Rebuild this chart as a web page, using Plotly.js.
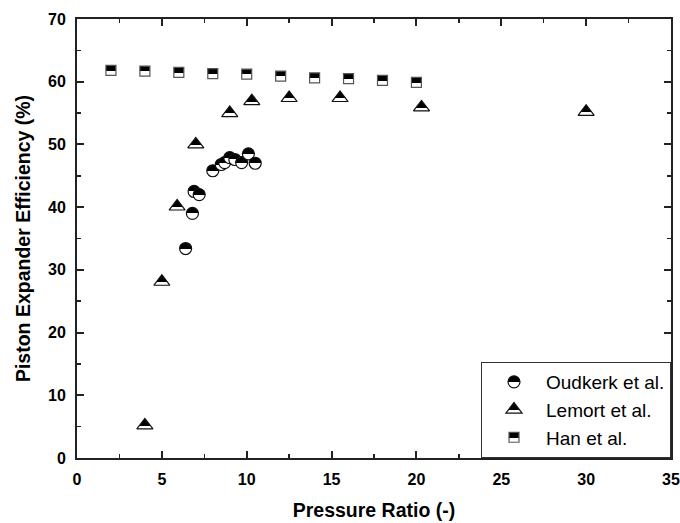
<!DOCTYPE html>
<html>
<head>
<meta charset="utf-8">
<script src="https://cdn.plot.ly/plotly-3.0.1.min.js"></script>
<style>
  html, body { margin: 0; padding: 0; background: #fff; }
  #chart { width: 680px; height: 523px; }
</style>
</head>
<body>
<div id="chart"></div>
<script>
// Oudkerk et al.
var oudkerkX = [6.4, 6.8, 6.9, 7.2, 8.0, 8.5, 8.7, 9.0, 9.3, 9.7, 10.1, 10.5];
var oudkerkY = [33.4, 39.0, 42.5, 42.0, 45.8, 46.8, 47.1, 47.9, 47.6, 47.1, 48.5, 47.0];
// Lemort et al.
var lemortX = [4.0, 5.0, 5.9, 7.0, 9.0, 10.3, 12.5, 15.5, 20.3, 30.0];
var lemortY = [5.2, 28.1, 40.1, 50.0, 55.0, 56.9, 57.4, 57.4, 55.9, 55.2];
// Han et al.
var hanX = [2, 4, 6, 8, 10, 12, 14, 16, 18, 20];
var hanY = [61.8, 61.7, 61.5, 61.3, 61.2, 60.9, 60.6, 60.5, 60.2, 59.9];

var seriesNames = ['Oudkerk et al.', 'Lemort et al.', 'Han et al.'];

function halfMarker(symbol, size, lower, lineColor) {
  return {
    symbol: symbol,
    size: size,
    color: '#000000',
    gradient: { type: 'vertical', color: lower },
    line: { color: lineColor, width: 1.2 }
  };
}

var data = [
  { x: oudkerkX, y: oudkerkY, name: seriesNames[0], type: 'scatter', mode: 'markers',
    marker: halfMarker('circle', 12, '#ffffff', '#111111') },
  { x: lemortX, y: lemortY, name: seriesNames[1], type: 'scatter', mode: 'markers',
    marker: halfMarker('triangle-up', 14, '#fefefe', '#111111') },
  { x: hanX, y: hanY, name: seriesNames[2], type: 'scatter', mode: 'markers',
    marker: halfMarker('square', 10, '#fdfdfd', '#555555') }
];

var fontFam = 'Liberation Sans, Arial, sans-serif';

var axisCommon = {
  showline: true, linecolor: '#222222', linewidth: 2, mirror: 'ticks',
  ticks: 'inside', ticklen: 7, tickwidth: 2, tickcolor: '#222222',
  ticklabelstandoff: 6,
  showgrid: false, zeroline: false,
  tickfont: { family: fontFam, size: 16, color: '#000', weight: 'bold' }
};
var minorCommon = { ticks: 'inside', ticklen: 4, tickwidth: 1.5, tickcolor: '#222222' };

var layout = {
  width: 680, height: 523,
  margin: { l: 77, r: 9, t: 19, b: 65 },
  paper_bgcolor: '#ffffff', plot_bgcolor: '#ffffff',
  showlegend: true,
  legend: {
    x: 1, xanchor: 'right', y: 0, yanchor: 'bottom',
    bordercolor: '#333333', borderwidth: 1, bgcolor: '#ffffff',
    font: { family: fontFam, size: 19, color: '#000' },
    itemwidth: 54, tracegroupgap: 0
  },
  xaxis: Object.assign({}, axisCommon, {
    range: [0, 35], dtick: 5, tick0: 0,
    minor: Object.assign({}, minorCommon, { dtick: 2.5 }),
    title: { text: 'Pressure Ratio (-)', standoff: 16,
      font: { family: fontFam, size: 19.5, color: '#000', weight: 'bold' } }
  }),
  yaxis: Object.assign({}, axisCommon, {
    range: [0, 70], dtick: 10, tick0: 0,
    minor: Object.assign({}, minorCommon, { dtick: 5 }),
    title: { text: 'Piston Expander Efficiency (%)', standoff: 12,
      font: { family: fontFam, size: 19.5, color: '#000', weight: 'bold' } }
  })
};

// make the vertical marker gradients a sharp two-tone split (light part at the bottom)
function sharpenGradients() {
  document.querySelectorAll('linearGradient').forEach(function (g) {
    var stops = g.querySelectorAll('stop');
    if (stops.length !== 2) return;
    var cols = '';
    stops.forEach(function (s) {
      cols += (s.getAttribute('stop-color') || '') + ' ' + (s.getAttribute('style') || '') + ' ';
    });
    cols = cols.toLowerCase();
    var lightFrac = '50%';
    if (cols.indexOf('254') >= 0 || cols.indexOf('fefefe') >= 0) lightFrac = '30%';
    else if (cols.indexOf('253') >= 0 || cols.indexOf('fdfdfd') >= 0) lightFrac = '47%';
    var a = stops[0], b = stops[1];
    var a2 = a.cloneNode(true), b2 = b.cloneNode(true);
    a2.setAttribute('offset', lightFrac);
    b2.setAttribute('offset', lightFrac);
    g.insertBefore(a2, b);
    g.insertBefore(b2, b);
  });
}

Plotly.newPlot('chart', data, layout, { displayModeBar: false, staticPlot: true })
  .then(sharpenGradients);
</script>
</body>
</html>
